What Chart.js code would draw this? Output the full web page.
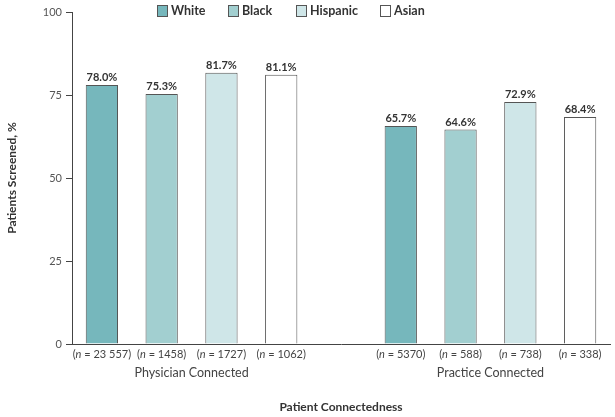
<!DOCTYPE html>
<html>
<head>
<meta charset="utf-8">
<script src="https://cdn.jsdelivr.net/npm/chart.js@4/dist/chart.umd.min.js"></script>
<style>
html,body{margin:0;padding:0;background:#fff;}
#wrap{width:615px;height:417px;position:relative;}
</style>
</head>
<body>
<div id="wrap"><canvas id="c"></canvas></div>
<script>
const groups = ['Physician Connected', 'Practice Connected'];
const races = ['White', 'Black', 'Hispanic', 'Asian'];
const whiteVals = [78.0, 65.7];
const blackVals = [75.3, 64.6];
const hispanicVals = [81.7, 72.9];
const asianVals = [81.1, 68.4];
const physicianN = ['23 557', '1458', '1727', '1062'];
const practiceN = ['5370', '588', '738', '338'];
const yTicks = [0, 25, 50, 75, 100];
const raceColors = ['#76b7bc', '#a2cfd0', '#cfe6e8', '#ffffff'];

const seriesVals = [whiteVals, blackVals, hispanicVals, asianVals];
const nByGroup = [physicianN, practiceN];

// 9 slots: 4 bars, a gap, 4 bars
const labels = [];
const nLabels = [];
groups.forEach((g, gi) => {
  races.forEach((r, ri) => { labels.push(g + ' ' + r); nLabels.push(nByGroup[gi][ri]); });
  if (gi === 0) { labels.push(''); nLabels.push(''); }
});
const datasets = races.map((r, ri) => {
  const data = labels.map(() => null);
  data[ri] = seriesVals[ri][0];
  data[5 + ri] = seriesVals[ri][1];
  return {
    label: r, data,
    backgroundColor: raceColors[ri],
    borderColor: '#555', borderWidth: 1,
    barPercentage: 0.54, categoryPercentage: 1.0
  };
});

const FONT = 'Lato';

const overlay = {
  id: 'overlay',
  afterDatasetsDraw(chart) {
    const ctx = chart.ctx;
    const xs = chart.scales.x;
    const ca = chart.chartArea;
    ctx.save();
    // value labels
    ctx.fillStyle = '#333';
    ctx.font = 'bold 11px ' + FONT;
    ctx.textAlign = 'center';
    ctx.textBaseline = 'alphabetic';
    chart.data.datasets.forEach((ds, di) => {
      const meta = chart.getDatasetMeta(di);
      meta.data.forEach((el, i) => {
        if (ds.data[i] == null) return;
        ctx.fillText(ds.data[i].toFixed(1) + '%', el.x, el.y - 4);
      });
    });
    // n labels with italic n
    ctx.fillStyle = '#444';
    ctx.textBaseline = 'middle';
    nLabels.forEach((nl, i) => {
      if (!nl) return;
      const cx = xs.getPixelForValue(i);
      const y = ca.bottom + 10;
      const p1 = '(', p2 = 'n', p3 = ' = ' + nl + ')';
      ctx.font = '11px ' + FONT;
      const w1 = ctx.measureText(p1).width, w3 = ctx.measureText(p3).width;
      ctx.font = 'italic 11px ' + FONT;
      const w2 = ctx.measureText(p2).width;
      let x = cx - (w1 + w2 + w3) / 2;
      ctx.textAlign = 'left';
      ctx.font = '11px ' + FONT; ctx.fillText(p1, x, y); x += w1;
      ctx.font = 'italic 11px ' + FONT; ctx.fillText(p2, x, y); x += w2;
      ctx.font = '11px ' + FONT; ctx.fillText(p3, x, y);
    });
    // group labels
    ctx.textAlign = 'center';
    ctx.font = '12.5px ' + FONT;
    ctx.fillStyle = '#444';
    groups.forEach((g, gi) => {
      const a = xs.getPixelForValue(gi * 5), b = xs.getPixelForValue(gi * 5 + 3);
      ctx.fillText(g, (a + b) / 2, ca.bottom + 29);
    });
    // x title
    ctx.font = 'bold 12px ' + FONT;
    ctx.fillStyle = '#333';
    ctx.fillText('Patient Connectedness', (ca.left + ca.right) / 2, ca.bottom + 63);
    // legend
    const legX = [157, 228, 296, 380];
    ctx.font = 'bold 12.5px ' + FONT;
    ctx.textAlign = 'left';
    races.forEach((r, ri) => {
      ctx.fillStyle = raceColors[ri];
      ctx.fillRect(legX[ri] + 0.5, 5.5, 10, 11);
      ctx.strokeStyle = '#555';
      ctx.lineWidth = 1;
      ctx.strokeRect(legX[ri] + 0.5, 5.5, 10, 11);
      ctx.fillStyle = '#333';
      ctx.fillText(r, legX[ri] + 14, 11);
    });
    ctx.restore();
  }
};

new Chart(document.getElementById('c'), {
  type: 'bar',
  data: { labels, datasets },
  plugins: [overlay],
  options: {
    responsive: true,
    maintainAspectRatio: false,
    animation: false,
    layout: { padding: { top: 12, right: 5, left: 0, bottom: 0 } },
    plugins: { legend: { display: false }, tooltip: { enabled: false } },
    scales: {
      x: {
        stacked: true,
        ticks: { display: false },
        grid: { display: true, drawOnChartArea: false, drawTicks: false },
        border: { display: true, color: '#444', width: 1 },
        afterFit(s) { s.height = 73; }
      },
      y: {
        min: 0, max: 100,
        afterBuildTicks(s) { s.ticks = yTicks.map(v => ({ value: v })); },
        ticks: { color: '#555', font: { family: FONT, size: 11 }, padding: 4 },
        grid: { display: true, drawOnChartArea: false, drawTicks: true, tickLength: 6, color: '#444' },
        border: { display: true, color: '#444', width: 1 },
        title: { display: true, text: 'Patients Screened, %', color: '#333', font: { family: FONT, size: 12, weight: 'bold' }, padding: { top: 5, bottom: 10 } },
        afterFit(s) { s.width = 72; }
      }
    }
  }
});
</script>
</body>
</html>
